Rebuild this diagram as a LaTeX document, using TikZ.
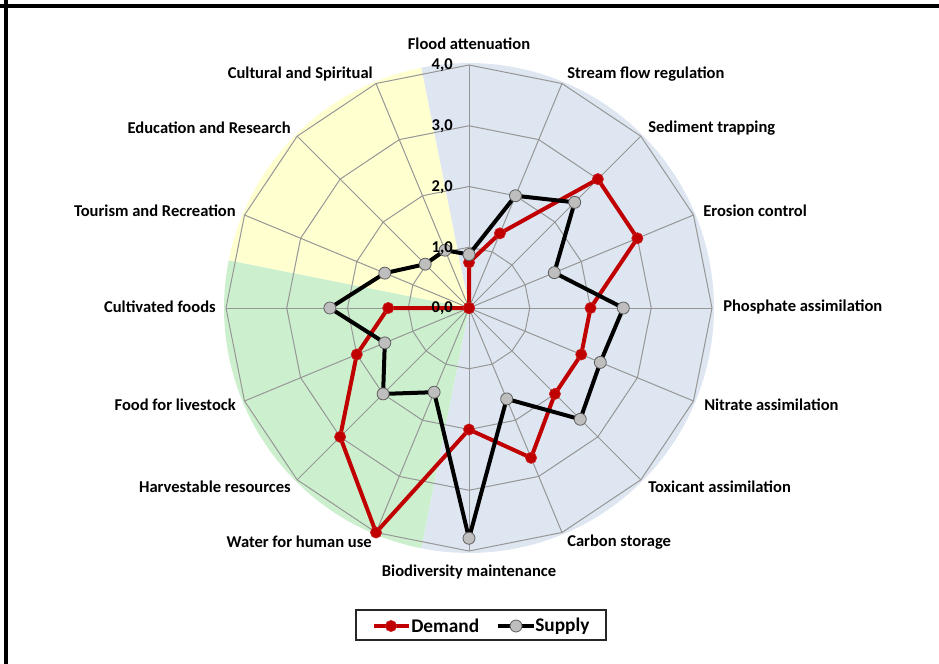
\documentclass[tikz,border=0pt]{standalone}
\usepackage{fontspec}
\setmainfont{Carlito}
\usepackage{tikz}
\usetikzlibrary{positioning}
\definecolor{DemandRed}{RGB}{192,0,0}
\definecolor{SupplyGray}{RGB}{190,190,190}
\definecolor{MarkerEdge}{RGB}{95,95,95}
\definecolor{GridGray}{RGB}{150,150,150}
\definecolor{RegBlue}{RGB}{222,231,241}
\definecolor{CultYellow}{RGB}{255,255,208}
\definecolor{ProvGreen}{RGB}{204,240,206}

\begin{document}
\begin{tikzpicture}[
  x=0.75pt, y=-0.75pt,
  axislabel/.style={font=\fontsize{12.4}{14}\selectfont\bfseries, inner sep=0pt},
  ticklabel/.style={font=\fontsize{12.4}{14}\selectfont\bfseries, inner sep=0pt, anchor=east},
  legendtext/.style={font=\fontsize{14.5}{16}\selectfont\bfseries, inner sep=0pt, anchor=west},
  gridline/.style={draw=GridGray, line width=0.75pt},
  demandline/.style={draw=DemandRed, line width=3pt, line join=round},
  supplyline/.style={draw=black, line width=3pt, line join=round},
  demanddot/.style={circle, fill=DemandRed, draw=DemandRed!85!white, line width=0.4pt, inner sep=0pt, minimum size=8.5pt},
  supplydot/.style={circle, fill=SupplyGray, draw=MarkerEdge, line width=0.6pt, inner sep=0pt, minimum size=9pt},
  legendbox/.style={draw=black!85, line width=1pt, fill=white, minimum width=187.5pt, minimum height=22.5pt}
]
\useasboundingbox (0,0) rectangle (939,664);
\fill[white] (0,0) rectangle (939,664);

\begin{scope}[shift={(469,308)}]
% service groups
\fill[RegBlue] (0,0) -- plot[domain=-101.25:101.25, samples=80] (\x:245) -- cycle;
\fill[ProvGreen] (0,0) -- plot[domain=101.25:191.25, samples=40] (\x:245) -- cycle;
\fill[CultYellow] (0,0) -- plot[domain=191.25:258.75, samples=30] (\x:245) -- cycle;

% web
\foreach \lv in {1,...,4}
  \draw[gridline] (-90:\lv*60.75) \foreach \i in {1,...,15} {-- (\i*22.5-90:\lv*60.75)} -- cycle;
\foreach \i in {0,...,15}
  \draw[gridline] (0,0) -- (\i*22.5-90:243);

% demand
\foreach \v [count=\i from 0] in {0.75,1.33,3,3,2,2,2,2.67,2,4,3,2,1.33,0,0,0}
  \coordinate (d\i) at (\i*22.5-90:\v*60.75);
\draw[demandline] (d0) -- (d1) -- (d2) -- (d3) -- (d4) -- (d5) -- (d6) -- (d7) -- (d8)
  -- (d9) -- (d10) -- (d11) -- (d12) -- (d13) -- (d14) -- (d15) -- cycle;
\foreach \i in {0,...,15}
  \node[demanddot] (dm\i) at (d\i) {};

% supply
\foreach \v [count=\i from 0] in {0.88,2,2.46,1.52,2.54,2.34,2.59,1.62,3.79,1.5,2,1.5,2.29,1.5,1.02,1.03}
  \coordinate (s\i) at (\i*22.5-90:\v*60.75);
\draw[supplyline] (s0) -- (s1) -- (s2) -- (s3) -- (s4) -- (s5) -- (s6) -- (s7) -- (s8)
  -- (s9) -- (s10) -- (s11) -- (s12) -- (s13) -- (s14) -- (s15) -- cycle;
\foreach \i in {0,...,15}
  \node[supplydot] (sm\i) at (s\i) {};
\end{scope}

\node[ticklabel] (tick4) at (453,65) {4,0};
\node[ticklabel] (tick3) at (453,126) {3,0};
\node[ticklabel] (tick2) at (453,187) {2,0};
\node[ticklabel] (tick1) at (453,248) {1,0};
\node[ticklabel] (tick0) at (453,308) {0,0};

\node[axislabel] (flood) at (469,44) {Flood attenuation};
\node[axislabel, anchor=west] (stream) at (567,74) {Stream flow regulation};
\node[axislabel, anchor=west] (sediment) at (648,128) {Sediment trapping};
\node[axislabel, anchor=west] (erosion) at (703,211) {Erosion control};
\node[axislabel, anchor=west] (phosphate) at (723,307) {Phosphate assimilation};
\node[axislabel, anchor=west] (nitrate) at (704,405) {Nitrate assimilation};
\node[axislabel, anchor=west] (toxicant) at (648,487) {Toxicant assimilation};
\node[axislabel, anchor=west] (carbon) at (567,542) {Carbon storage};
\node[axislabel] (biodiv) at (469,572) {Biodiversity maintenance};
\node[axislabel, anchor=east] (water) at (372,542) {Water for human use};
\node[axislabel, anchor=east] (harvest) at (291,487) {Harvestable resources};
\node[axislabel, anchor=east] (livestock) at (236,405) {Food for livestock};
\node[axislabel, anchor=east] (cultivated) at (216,307) {Cultivated foods};
\node[axislabel, anchor=east] (tourism) at (236,211) {Tourism and Recreation};
\node[axislabel, anchor=east] (education) at (291,128) {Education and Research};
\node[axislabel, anchor=east] (cultural) at (373,74) {Cultural and Spiritual};

% legend
\node[legendbox] (legend) at (481,625) {};
\coordinate (dkeyA) at (374,626);
\coordinate (dkeyB) at (409,626);
\draw[demandline] (dkeyA) -- (dkeyB);
\node[demanddot] (dkey) at (391,626) {};
\node[legendtext] (demandtxt) at (411,626) {Demand};
\coordinate (skeyA) at (498,626);
\coordinate (skeyB) at (534,626);
\draw[supplyline] (skeyA) -- (skeyB);
\node[supplydot] (skey) at (516,626) {};
\node[legendtext] (supplytxt) at (535,626) {Supply};

% frame
\draw[line width=3pt] (0,5.5) -- (939,5.5);
\draw[line width=3pt] (6,0) -- (6,664);
\end{tikzpicture}
\end{document}
